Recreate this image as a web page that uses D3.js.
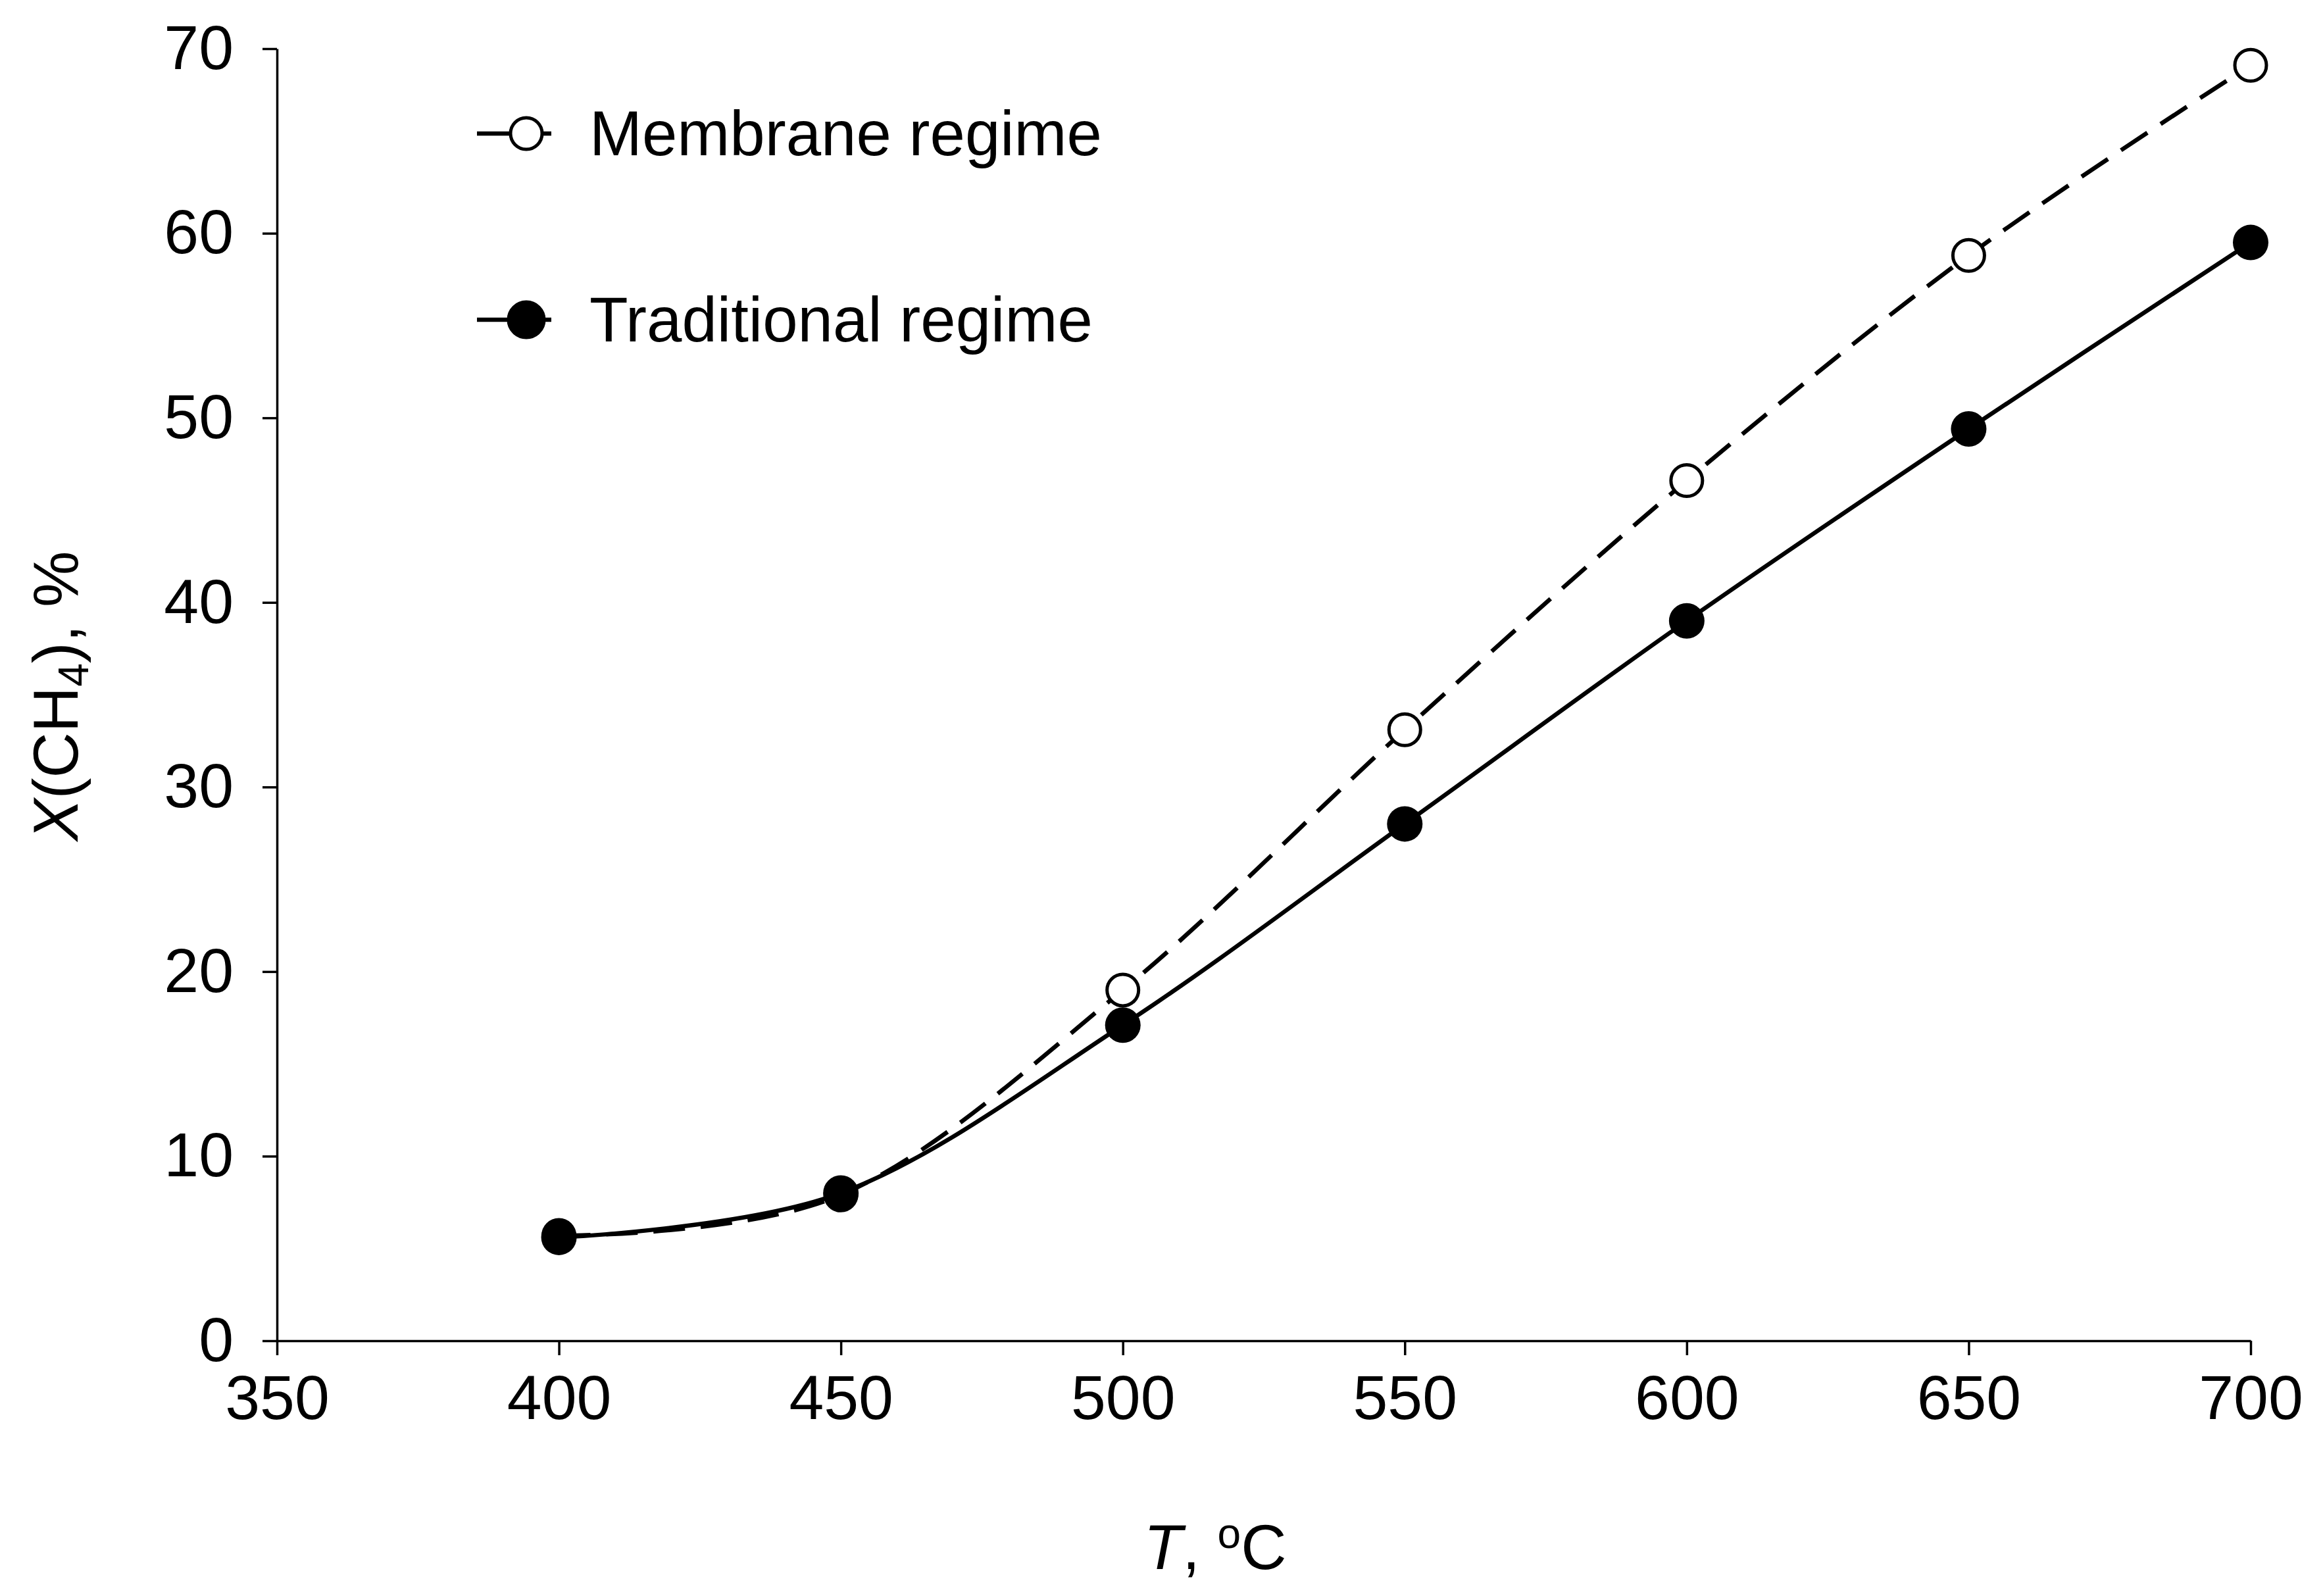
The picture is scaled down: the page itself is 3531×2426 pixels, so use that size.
<!DOCTYPE html>
<html><head><meta charset="utf-8">
<script src="https://cdn.jsdelivr.net/npm/d3@7"></script>
<style>body{margin:0;background:#fff}</style></head>
<body><svg id="c" width="3531" height="2426"></svg>
<script>
const temps=[400,450,500,550,600,650,700];
const membrane=[5.7,7.9,19.0,33.1,46.6,58.8,69.1];
const traditional=[5.6,8.0,17.1,28.0,39.0,49.4,59.5];
const xTicks=[350,400,450,500,550,600,650,700];
const yTicks=[0,10,20,30,40,50,60,70];
const svg=d3.select("#c");
const font="Liberation Sans, Arial, sans-serif";
const x=d3.scaleLinear().domain([350,700]).range([421,3421]);
const y=d3.scaleLinear().domain([0,70]).range([2038,74]);
const xa=svg.append("g").attr("transform","translate(0,2038)").call(d3.axisBottom(x).tickValues(xTicks).tickSize(22).tickSizeOuter(0).tickPadding(30));
const ya=svg.append("g").attr("transform","translate(421,0)").call(d3.axisLeft(y).tickValues(yTicks).tickSize(22).tickSizeOuter(0).tickPadding(44));
[xa,ya].forEach(a=>{a.selectAll("path,line").attr("stroke","#000").attr("stroke-width",3.5);
 a.selectAll("text").attr("font-family",font).attr("font-size",95).attr("fill","#000");});
const line=d3.line().x((d,i)=>x(temps[i])).y(d=>y(d)).curve(d3.curveCatmullRom.alpha(0));
svg.append("path").datum(membrane).attr("d",line).attr("fill","none").attr("stroke","#000").attr("stroke-width",6.5).attr("stroke-dasharray","48,24");
svg.append("path").datum(traditional).attr("d",line).attr("fill","none").attr("stroke","#000").attr("stroke-width",6.5);
svg.selectAll(".m").data(membrane).enter().append("circle").attr("cx",(d,i)=>x(temps[i])).attr("cy",d=>y(d)).attr("r",24).attr("fill","#fff").attr("stroke","#000").attr("stroke-width",5);
svg.selectAll(".t").data(traditional).enter().append("circle").attr("cx",(d,i)=>x(temps[i])).attr("cy",d=>y(d)).attr("r",27).attr("fill","#000");
const leg=[{t:"Membrane regime",y:203,fill:"#fff"},{t:"Traditional regime",y:486,fill:"#000"}];
leg.forEach(l=>{
 svg.append("line").attr("x1",725).attr("x2",838).attr("y1",l.y).attr("y2",l.y).attr("stroke","#000").attr("stroke-width",6.5);
 svg.append("circle").attr("cx",800).attr("cy",l.y).attr("r",l.fill=="#000"?27:24).attr("fill",l.fill).attr("stroke","#000").attr("stroke-width",5);
 svg.append("text").attr("x",896).attr("y",l.y+33).attr("font-family",font).attr("font-size",96).text(l.t);
});
const yl=svg.append("text").attr("transform","translate(118,1058) rotate(-90)").attr("text-anchor","middle").attr("font-family",font).attr("font-size",96);
yl.append("tspan").attr("font-style","italic").text("X");
yl.append("tspan").text("(CH");
yl.append("tspan").attr("font-size",64).attr("dy",16).text("4");
yl.append("tspan").attr("dy",-16).text("), %");
const xl=svg.append("text").attr("x",1847).attr("y",2385).attr("text-anchor","middle").attr("font-family",font).attr("font-size",96);
xl.append("tspan").attr("font-style","italic").text("T");
xl.append("tspan").text(", ");
xl.append("tspan").attr("font-size",64).attr("dy",-32).text("o");
xl.append("tspan").attr("dy",32).text("C");
</script></body></html>
